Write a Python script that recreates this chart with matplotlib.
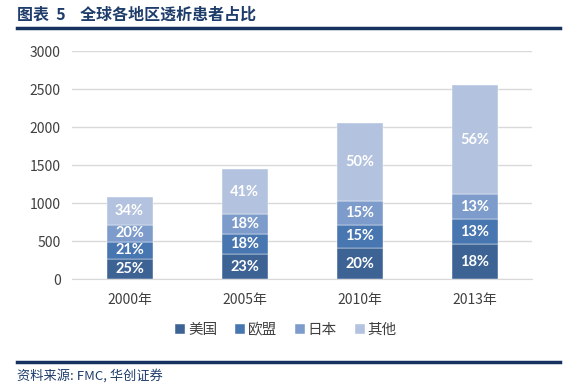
import matplotlib

matplotlib.use("Agg")

import matplotlib.pyplot as plt
import numpy as np

plt.rcParams["font.family"] = ["Noto Sans CJK SC", "DejaVu Sans"]

years = ["2000年", "2005年", "2010年", "2013年"]
regions = ["美国", "欧盟", "日本", "其他"]
totals = [1080, 1450, 2050, 2550]
shares = {
    "美国": [25, 23, 20, 18],
    "欧盟": [21, 18, 15, 13],
    "日本": [20, 18, 15, 13],
    "其他": [34, 41, 50, 56],
}
colors = ["#3D6395", "#4876B0", "#7E9CCB", "#B3C2DE"]

fig = plt.figure(figsize=(5.72, 3.9), dpi=100)
ax = fig.add_axes([72 / 572, 1 - 279.3 / 390, 460 / 572, 228 / 390])

x = np.arange(len(years))
bottom = np.zeros(len(years))
for name, color in zip(regions, colors):
    pct = np.array(shares[name])
    vals = pct / 100 * np.array(totals)
    ax.bar(x, vals, 0.4, bottom=bottom, color=color, label=name, zorder=3,
           edgecolor="white", linewidth=0.3)
    for xi, b, v, p in zip(x, bottom, vals, pct):
        ax.text(xi, b + v / 2, f"{p}%", ha="center", va="center", color="white",
                fontsize=10.5, fontweight="bold", family=["Lato", "DejaVu Sans"], zorder=4)
    bottom += vals

ax.set_xlim(-0.5, 3.5)
ax.set_ylim(0, 3000)
ax.set_yticks(range(0, 3001, 500))
ax.set_xticks(x)
ax.set_xticklabels(years)
ax.grid(axis="y", color="#D9D9D9", linewidth=1, zorder=0)
for s in ["top", "right", "left"]:
    ax.spines[s].set_visible(False)
ax.spines["bottom"].set_color("#D9D9D9")
ax.tick_params(length=0, labelsize=10, colors="#404040", pad=8)
ax.tick_params(axis="x", pad=10)

fig.legend(loc="center", bbox_to_anchor=(0.5, 1 - 330 / 390), ncol=4, frameon=False,
           handlelength=0.7, handleheight=0.7, handletextpad=0.2, columnspacing=1.2,
           fontsize=10.5, labelcolor="#404040")

# 标题和页脚
fig.text(17 / 572, 1 - 15 / 390, "图表  5    全球各地区透析患者占比", ha="left", va="center",
         fontsize=11.5, fontweight="bold", color="#1F3D6B")
fig.add_artist(plt.Line2D([17 / 572, 560 / 572], [1 - 28 / 390] * 2, color="#17325E", linewidth=2.5))
fig.add_artist(plt.Line2D([17 / 572, 560 / 572], [1 - 362 / 390] * 2, color="#17325E", linewidth=2.5))
fig.text(17 / 572, 1 - 376 / 390, "资料来源: FMC, 华创证券", ha="left", va="center",
         fontsize=9.5, style="italic", color="#1F3D6B")

plt.savefig("out.png", dpi=100)
plt.close()
